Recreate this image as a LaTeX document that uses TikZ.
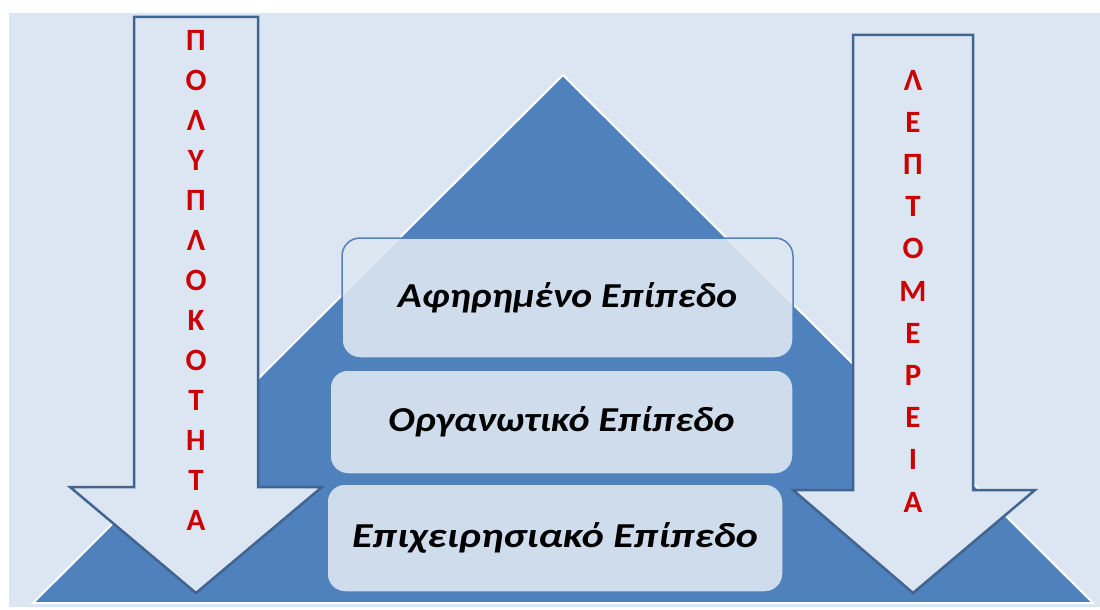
\documentclass[tikz,border=0pt]{standalone}
\usepackage{fontspec}
\setmainfont{Carlito}
\definecolor{bgc}{RGB}{220,230,242}
\definecolor{tri}{RGB}{79,129,189}
\definecolor{arrb}{RGB}{66,100,145}
\definecolor{boxf}{RGB}{221,230,241}
\definecolor{lettc}{RGB}{204,0,0}
\tikzset{
  arrowshape/.style={fill=bgc,draw=arrb,line width=2.5pt,line join=miter},
  lvlbox/.style={rounded corners=18pt,fill=boxf,fill opacity=0.9,text opacity=1,
    draw=tri,line width=1.5pt,inner sep=0pt,
    font=\fontsize{35}{40}\selectfont\bfseries\itshape},
  lett/.style={text=lettc,font=\fontsize{31}{32}\selectfont\bfseries,inner sep=0pt}
}
\begin{document}
\begin{tikzpicture}[x=1pt,y=-1pt]
\useasboundingbox (0,0) rectangle (1100,610);
\fill[bgc] (9,13) rectangle (1100,607);
\filldraw[fill=tri,draw=white,line width=2pt] (563,75) -- (1093,603) -- (33,603) -- cycle;
% arrows
\draw[arrowshape] (134,17) -- (258,17) -- (258,487) -- (322,487) -- (196,593) -- (70,487) -- (134,487) -- cycle;
\draw[arrowshape] (853,35) -- (973,35) -- (973,490) -- (1035,490) -- (913,593) -- (793,490) -- (853,490) -- cycle;
% boxes
\node[lvlbox,minimum width=451pt,minimum height=120pt] (b1) at (567.5,298) {\scalebox{1.13}[1]{Αφηρημένο Επίπεδο}};
\node[lvlbox,minimum width=463pt,minimum height=104pt] (b2) at (561.5,422) {\scalebox{1.13}[1]{Οργανωτικό Επίπεδο}};
\node[lvlbox,minimum width=456pt,minimum height=108pt] (b3) at (555,538) {\scalebox{1.2}[1]{Επιχειρησιακό Επίπεδο}};
% letters
\foreach \c [count=\i] in {Π,Ο,Λ,Υ,Π,Λ,Ο,Κ,Ο,Τ,Η,Τ,Α}
  \node[lett] (lp\i) at (196,{40+40*(\i-1)}) {\c};
\foreach \c [count=\i] in {Λ,Ε,Π,Τ,Ο,Μ,Ε,Ρ,Ε,Ι,Α}
  \node[lett] (rl\i) at (913,{80+42.2*(\i-1)}) {\c};
\end{tikzpicture}
\end{document}
